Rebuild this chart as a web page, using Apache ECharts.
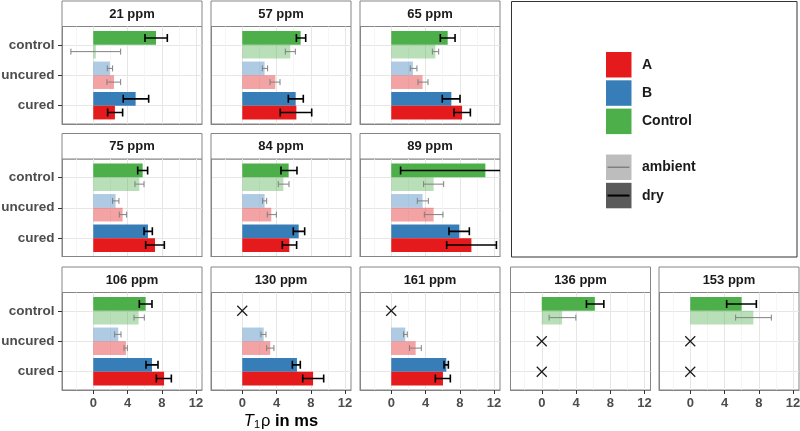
<!DOCTYPE html>
<html>
<head>
<meta charset="utf-8">
<script src="https://cdn.jsdelivr.net/npm/echarts@6/dist/echarts.min.js"></script>
<style>
html,body{margin:0;padding:0;background:#fff}
#main{width:800px;height:431px}
</style>
</head>
<body>
<div id="main"></div>
<script>
var ppm = ['21 ppm','57 ppm','65 ppm','75 ppm','84 ppm','89 ppm','106 ppm','130 ppm','161 ppm','136 ppm','153 ppm'];
var groups = ['cured','uncured','control'];
var xTicks = [0,4,8,12];
var xMinor = [-2,2,6,10];
// [value, low, high] in ms, null = not measured (drawn as a cross)
var curedA = [[2.53,1.68,3.43],[6.32,4.44,8.11],[8.27,7.33,9.24],[7.21,6.12,8.3],[5.5,4.68,6.35],[9.36,6.47,12.28],[8.27,7.37,9.12],[8.27,7.06,9.51],[6.04,5.15,6.9],null,null];
var curedB = [[4.95,3.5,6.47],[6.24,5.38,7.13],[7.02,5.96,8.03],[6.39,5.93,6.9],[6.59,5.96,7.29],[7.95,6.74,9.12],[6.86,6.16,7.56],[6.39,5.85,6.78],[6.43,6.16,6.67],null,null];
var uncuredA = [[2.42,1.6,3.2],[3.86,3.24,4.41],[3.66,3.12,4.29],[3.43,3.04,3.9],[3.39,2.92,3.98],[4.95,3.86,6.04],[3.82,3.59,3.98],[3.27,2.85,3.7],[2.85,2.14,3.51],null,null];
var uncuredB = [[1.95,1.64,2.26],[2.61,2.34,2.96],[2.53,2.22,3.0],[2.61,2.26,3.0],[2.61,2.38,2.85],[3.66,3.04,4.33],[2.92,2.5,3.24],[2.5,2.18,2.77],[1.64,1.44,1.87],null,null];
var controlAmbient = [[0.3,-2.61,3.2],[5.61,5.03,6.2],[5.15,4.8,5.54],[5.38,4.87,5.93],[4.8,4.21,5.46],[4.95,3.78,6.12],[5.3,4.76,5.96],null,null,[2.38,0.86,3.98],[7.37,5.3,9.47]];
var controlDry = [[7.33,6.04,8.65],[6.82,6.32,7.41],[6.59,5.73,7.45],[5.77,5.19,6.35],[5.42,4.52,6.39],[10.99,1.09,20.9],[6.12,5.38,6.86],null,null,[6.2,5.22,7.25],[6.0,4.25,7.72]];

var RED = '#E41A1C', BLUE = '#377EB8', GREEN = '#4DAF4A';
var RED_L = 'rgba(228,26,28,0.4)', BLUE_L = 'rgba(55,126,184,0.4)', GREEN_L = 'rgba(77,175,74,0.4)';
var FONT = '"Liberation Sans", Arial, sans-serif';
var BORDER = '#858585';

// layout
var colLeft = [62, 211, 360, 510.5, 659];
var stripTop = [1, 133.5, 267];
var panelW = 140, stripH = 25.5, panelH = 97.5;
var xMin = -3.65, xMax = 12.7;
var inset = panelH / 32;   // discrete axis expansion 0.6 instead of 0.5
var yCenters = [0.6, 1.6, 2.6];
var pos = [[0,0],[1,0],[2,0],[0,1],[1,1],[2,1],[0,2],[1,2],[2,2],[3,2],[4,2]];

var grids = [], xAxes = [], yAxes = [], series = [], graphics = [];

function renderErr(params, api) {
  var lo = api.coord([api.value(0), api.value(2)]);
  var hi = api.coord([api.value(1), api.value(2)]);
  var step = api.size([0, 1])[1];
  var y = lo[1] + api.value(3) * step * 0.225;
  var dry = api.value(4) === 1;
  var cap = dry ? 4 : 3;
  var st = {stroke: dry ? '#000' : '#808080', lineWidth: dry ? 1.6 : 1};
  return {type: 'group', children: [
    {type: 'line', shape: {x1: lo[0], y1: y, x2: hi[0], y2: y}, style: st},
    {type: 'line', shape: {x1: lo[0], y1: y - cap, x2: lo[0], y2: y + cap}, style: st},
    {type: 'line', shape: {x1: hi[0], y1: y - cap, x2: hi[0], y2: y + cap}, style: st}
  ]};
}
function renderCross(params, api) {
  var c = api.coord([api.value(0), api.value(1)]);
  var r = 5;
  var st = {stroke: '#1a1a1a', lineWidth: 1.2};
  return {type: 'group', children: [
    {type: 'line', shape: {x1: c[0] - r, y1: c[1] - r, x2: c[0] + r, y2: c[1] + r}, style: st},
    {type: 'line', shape: {x1: c[0] - r, y1: c[1] + r, x2: c[0] + r, y2: c[1] - r}, style: st}
  ]};
}
function barItem(d, color) {
  return d ? {value: d[0], itemStyle: {color: color}} : '-';
}

ppm.forEach(function (name, i) {
  var col = pos[i][0], row = pos[i][1];
  var left = colLeft[col], top = stripTop[row] + stripH;
  var bottomRow = row === 2, firstCol = col === 0;

  grids.push({left: left, top: top, width: panelW, height: panelH, show: true, outerBoundsMode: 'none',
    borderColor: BORDER, borderWidth: 1, backgroundColor: 'transparent'});
  grids.push({left: left, top: top + inset, width: panelW, height: panelH - 2 * inset, outerBoundsMode: 'none'});

  xAxes.push({gridIndex: 2 * i, type: 'value', min: xMin, max: xMax, position: 'bottom',
    axisLine: {show: true, onZero: false, lineStyle: {color: BORDER, width: 1}},
    axisTick: {show: bottomRow, customValues: xTicks, length: 4, lineStyle: {color: '#333', width: 1}},
    axisLabel: {show: bottomRow, customValues: xTicks, margin: 7, color: '#4d4d4d',
      fontSize: 13, fontWeight: 'bold', fontFamily: FONT},
    splitLine: {show: true, lineStyle: {color: '#e6e6e6', width: 1}}});
  xAxes.push({gridIndex: 2 * i, type: 'value', min: xMin, max: xMax, position: 'top',
    axisLine: {show: false, onZero: false}, axisTick: {show: false, customValues: xMinor},
    axisLabel: {show: false, customValues: xMinor},
    splitLine: {show: true, lineStyle: {color: '#f2f2f2', width: 0.8}}});
  xAxes.push({gridIndex: 2 * i + 1, type: 'value', min: xMin, max: xMax, show: false});

  yAxes.push({gridIndex: 2 * i, type: 'value', min: 0, max: 3.2, position: 'left',
    axisLine: {show: true, onZero: false, lineStyle: {color: BORDER, width: 1}},
    axisTick: {show: firstCol, customValues: yCenters, length: 4, lineStyle: {color: '#333', width: 1}},
    axisLabel: {show: false, customValues: yCenters},
    splitLine: {show: true, lineStyle: {color: '#e6e6e6', width: 1}}});
  yAxes.push({gridIndex: 2 * i + 1, type: 'category', data: groups, position: 'left',
    axisLine: {show: false, onZero: false}, axisTick: {show: false},
    axisLabel: {show: firstCol, margin: 7.5, color: '#4d4d4d', fontSize: 13.5,
      fontWeight: 'bold', fontFamily: FONT},
    splitLine: {show: false}});

  var xi = 3 * i + 2, yi = 2 * i + 1;
  series.push({type: 'bar', name: 'top', xAxisIndex: xi, yAxisIndex: yi,
    barWidth: '45%', barGap: '0%', silent: true,
    data: [barItem(curedB[i], BLUE), barItem(uncuredB[i], BLUE_L), barItem(controlDry[i], GREEN)]});
  series.push({type: 'bar', name: 'bottom', xAxisIndex: xi, yAxisIndex: yi,
    barWidth: '45%', barGap: '0%', silent: true,
    data: [barItem(curedA[i], RED), barItem(uncuredA[i], RED_L), barItem(controlAmbient[i], GREEN_L)]});

  var err = [], cross = [];
  [[curedA, 0, 1, 1], [curedB, 0, -1, 1], [uncuredA, 1, 1, 0], [uncuredB, 1, -1, 0],
   [controlAmbient, 2, 1, 0], [controlDry, 2, -1, 1]].forEach(function (s) {
    var d = s[0][i];
    if (d) err.push([d[1], d[2], s[1], s[2], s[3]]);
  });
  [[curedA, curedB, 0], [uncuredA, uncuredB, 1], [controlAmbient, controlDry, 2]].forEach(function (s) {
    if (!s[0][i] && !s[1][i]) cross.push([0, s[2]]);
  });
  series.push({type: 'custom', xAxisIndex: xi, yAxisIndex: yi, clip: true, silent: true, z: 5,
    renderItem: renderErr, encode: {x: [0, 1], y: 2}, data: err});
  if (cross.length) {
    series.push({type: 'custom', xAxisIndex: xi, yAxisIndex: yi, silent: true, z: 5,
      renderItem: renderCross, encode: {x: 0, y: 1}, data: cross});
  }

  graphics.push({type: 'rect', shape: {x: left, y: stripTop[row], width: panelW, height: stripH},
    style: {fill: '#fff', stroke: BORDER, lineWidth: 1}});
  graphics.push({type: 'text', style: {text: name, x: left + panelW / 2, y: stripTop[row] + stripH / 2 + 0.5,
    align: 'center', verticalAlign: 'middle', fontSize: 13, fontWeight: 'bold', fontFamily: FONT, fill: '#1a1a1a'}});
});

// legend panel
graphics.push({type: 'rect', shape: {x: 511.5, y: 1.5, width: 285.5, height: 255.5},
  style: {fill: '#fff', stroke: '#333', lineWidth: 1}});
var keys = [['A', RED, 52], ['B', BLUE, 80.3], ['Control', GREEN, 108.6]];
keys.forEach(function (k) {
  graphics.push({type: 'rect', shape: {x: 606, y: k[2], width: 25.5, height: 25.5}, style: {fill: k[1]}});
  graphics.push({type: 'text', style: {text: k[0], x: 642, y: k[2] + 13, verticalAlign: 'middle',
    fontSize: 14, fontWeight: 'bold', fontFamily: FONT, fill: '#1a1a1a'}});
});
var keys2 = [['ambient', '#bdbdbd', '#808080', 1.5, 154.5], ['dry', '#5a5a5a', '#000', 2, 182.8]];
keys2.forEach(function (k) {
  graphics.push({type: 'rect', shape: {x: 606, y: k[4], width: 25.5, height: 25.5}, style: {fill: k[1]}});
  graphics.push({type: 'line', shape: {x1: 607.5, y1: k[4] + 12.75, x2: 629.5, y2: k[4] + 12.75},
    style: {stroke: k[2], lineWidth: k[3]}});
  graphics.push({type: 'text', style: {text: k[0], x: 642, y: k[4] + 13, verticalAlign: 'middle',
    fontSize: 14, fontWeight: 'bold', fontFamily: FONT, fill: '#1a1a1a'}});
});

// x axis title
graphics.push({type: 'text', style: {
  text: '{i|T}{s|1}{n|ρ}{b| in ms}', x: 281, y: 421, align: 'center', verticalAlign: 'middle',
  rich: {
    i: {fontSize: 16.5, fontStyle: 'italic', fontFamily: FONT, fill: '#000'},
    s: {fontSize: 11, fontFamily: FONT, fill: '#000', padding: [8, 1, 0, 0]},
    n: {fontSize: 16.5, fontFamily: FONT, fill: '#000'},
    b: {fontSize: 16.5, fontWeight: 'bold', fontFamily: FONT, fill: '#000'}
  }}});

var chart = echarts.init(document.getElementById('main'), null, {renderer: 'canvas'});
chart.setOption({
  animation: false,
  backgroundColor: '#fff',
  grid: grids,
  xAxis: xAxes,
  yAxis: yAxes,
  series: series,
  graphic: graphics
});
</script>
</body>
</html>
